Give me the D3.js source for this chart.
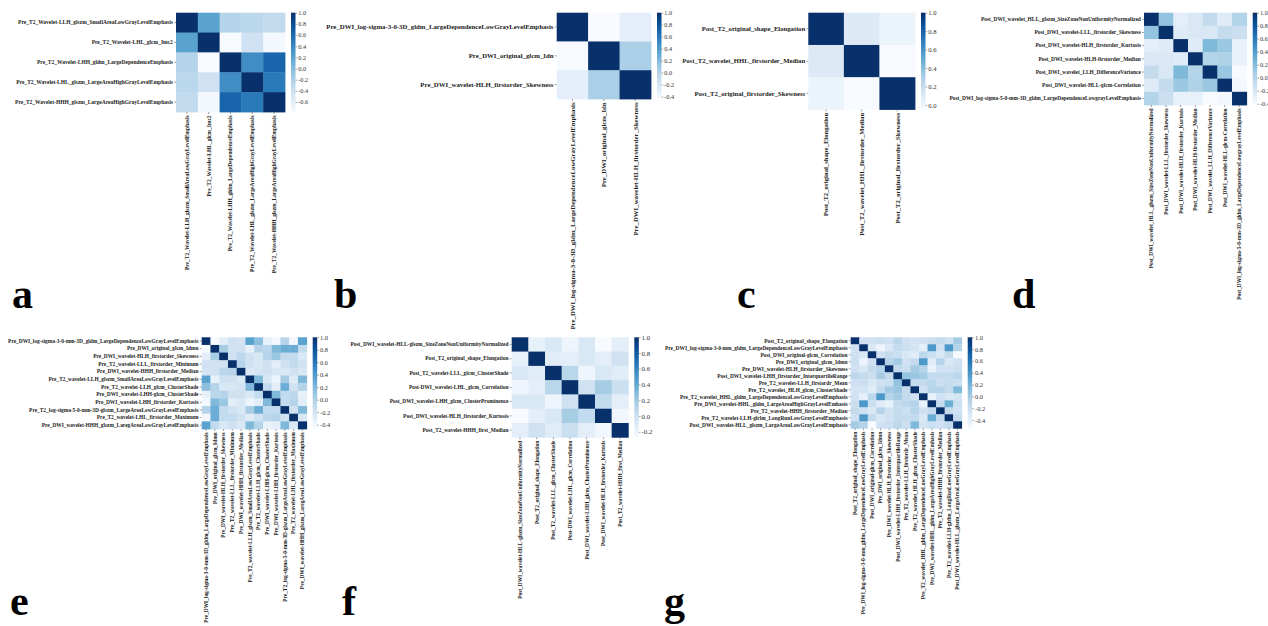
<!DOCTYPE html>
<html><head><meta charset="utf-8">
<script src="https://cdn.jsdelivr.net/npm/d3@7"></script>
<style>html,body{margin:0;padding:0;background:#fff;} svg{display:block;}</style>
</head><body><svg id="fig" width="1268" height="626"></svg>
<script>
// ---- feature names and correlation matrices for each panel ----
const labelsA = [
  "Pre_T2_Wavelet-LLH_glszm_SmallAreaLowGrayLevelEmphasis",
  "Pre_T2_Wavelet-LHL_glcm_Imc2",
  "Pre_T2_Wavelet-LHH_gldm_LargeDependenceEmphasis",
  "Pre_T2_Wavelet-LHL_glszm_LargeAreaHighGrayLevelEmphasis",
  "Pre_T2_Wavelet-HHH_glszm_LargeAreaHighGrayLevelEmphasis"
];
const valuesA = [
  [1.00, 0.20, -0.25, -0.28, -0.32],
  [0.20, 1.00, -0.78, -0.42, -0.74],
  [-0.25, -0.78, 1.00, 0.36, 0.64],
  [-0.28, -0.42, 0.36, 1.00, 0.50],
  [-0.32, -0.74, 0.64, 0.50, 1.00]
];
const ticksA = [1.0, 0.8, 0.6, 0.4, 0.2, 0.0, -0.2, -0.4, -0.6];

const labelsB = [
  "Pre_DWI_log-sigma-3-0-3D_gldm_LargeDependenceLowGrayLevelEmphasis",
  "Pre_DWI_original_glcm_Idn",
  "Pre_DWI_wavelet-HLH_firstorder_Skewness"
];
const valuesB = [
  [1.00, -0.44, -0.30],
  [-0.44, 1.00, 0.04],
  [-0.30, 0.04, 1.00]
];
const ticksB = [1.0, 0.8, 0.6, 0.4, 0.2, 0.0, -0.2, -0.4];

const labelsC = [
  "Post_T2_original_shape_Elongation",
  "Post_T2_wavelet_HHL_firstorder_Median",
  "Post_T2_original_firstorder_Skewness"
];
const valuesC = [
  [1.00, 0.09, 0.01],
  [0.09, 1.00, -0.05],
  [0.01, -0.05, 1.00]
];
const ticksC = [1.0, 0.8, 0.6, 0.4, 0.2, 0.0];

const labelsD = [
  "Post_DWI_wavelet_HLL_glszm_SizeZoneNonUniformityNormalized",
  "Post_DWI_wavelet-LLL_firstorder_Skewness",
  "Post_DWI_wavelet-HLH_firstorder_Kurtosis",
  "Post_DWI_wavelet-HLH-firstorder_Median",
  "Post_DWI_wavelet_LLH_DifferenceVariance",
  "Post_DWI_wavelet-HLL-glcm-Correlation",
  "Post_DWI_log-sigma-5-0-mm-3D_gldm_LargeDependenceLowgrayLevelEmphasis"
];
const valuesD = [
  [1.00, 0.15, -0.28, -0.21, -0.07, -0.25, 0.01],
  [0.15, 1.00, -0.25, -0.21, -0.21, -0.07, -0.11],
  [-0.28, -0.25, 1.00, -0.25, 0.22, 0.12, -0.31],
  [-0.21, -0.21, -0.25, 1.00, 0.01, 0.03, -0.31],
  [-0.07, -0.21, 0.22, 0.01, 1.00, 0.12, -0.42],
  [-0.25, -0.07, 0.12, 0.03, 0.12, 1.00, -0.39],
  [0.01, -0.11, -0.31, -0.31, -0.42, -0.39, 1.00]
];
const ticksD = [1.0, 0.8, 0.6, 0.4, 0.2, 0.0, -0.2, -0.4];

const labelsE = [
  "Pre_DWI_log-sigma-3-0-mm-3D_gldm_LargeDependenceLowGrayLevelEmphasis",
  "Pre_DWI_original_glcm_Idmn",
  "Pre_DWI_wavelet-HLH_firstorder_Skewness",
  "Pre_T2_wavelet-LLL_firstorder_Minimum",
  "Pre_DWI_wavelet-HHH_firstorder_Median",
  "Pre_T2_wavelet-LLH_glszm_SmallAreaLowGrayLevelEmphasis",
  "Pre_T2_wavelet-LLH_glcm_ClusterShade",
  "Pre_DWI_wavelet-LHH-glcm_ClusterShade",
  "Pre_DWI_wavelet-LHH_firstorder_Kurtosis",
  "Pre_T2_log-sigma-5-0-mm-3D-glszm_LargeAreaLowGrayLevelEmphasis",
  "Pre_T2_wavelet-LHL_firstorder_Maximum",
  "Pre_DWI_wavelet-HHH_glszm_LaregAreaLowGrayLevelEmphasis"
];
const valuesE = [
  [1.00, -0.47, -0.32, -0.18, -0.21, 0.34, 0.15, -0.35, -0.44, -0.03, -0.44, 0.34],
  [-0.47, 1.00, 0.04, -0.18, -0.18, -0.35, -0.03, -0.06, 0.19, 0.27, 0.27, -0.10],
  [-0.32, 0.04, 1.00, -0.18, -0.06, -0.18, -0.25, -0.03, 0.09, -0.10, -0.10, -0.25],
  [-0.18, -0.18, -0.18, 1.00, -0.03, -0.18, -0.25, -0.18, -0.32, -0.18, -0.10, -0.18],
  [-0.21, -0.18, -0.06, -0.03, 1.00, -0.25, -0.21, -0.18, -0.25, -0.25, -0.18, -0.25],
  [0.34, -0.35, -0.18, -0.18, -0.25, 1.00, 0.19, -0.25, -0.40, 0.04, -0.29, 0.19],
  [0.15, -0.03, -0.25, -0.25, -0.21, 0.19, 1.00, -0.10, -0.32, 0.27, -0.18, -0.03],
  [-0.35, -0.06, -0.03, -0.18, -0.18, -0.25, -0.10, 1.00, 0.19, -0.10, -0.06, -0.35],
  [-0.44, 0.19, 0.09, -0.32, -0.25, -0.40, -0.32, 0.19, 1.00, -0.10, -0.03, -0.32],
  [-0.03, 0.27, -0.10, -0.18, -0.25, 0.04, 0.27, -0.10, -0.10, 1.00, -0.18, 0.19],
  [-0.44, 0.27, -0.10, -0.10, -0.18, -0.29, -0.18, -0.06, -0.03, -0.18, 1.00, -0.25],
  [0.34, -0.10, -0.25, -0.18, -0.25, 0.19, -0.03, -0.35, -0.32, 0.19, -0.25, 1.00]
];
const ticksE = [1.0, 0.8, 0.6, 0.4, 0.2, 0.0, -0.2, -0.4];

const labelsF = [
  "Post_DWI_wavelet-HLL-glszm_SizeZoneNonUniformityNormalized",
  "Post_T2_original_shape_Elongation",
  "Post_T2_wavelet-LLL_glcm_ClusterShade",
  "Post-DWI_wavelet-LHL_glcm_Correlation",
  "Post_DWI_wavelet-LHH_glcm_ClusterProminence",
  "Post_DWI_wavelet-HLH_firstorder_Kurtosis",
  "Post_T2_wavelet-HHH_first_Median"
];
const valuesF = [
  [1.00, -0.17, -0.08, -0.21, -0.08, -0.27, -0.14],
  [-0.17, 1.00, -0.12, -0.14, -0.08, -0.14, -0.02],
  [-0.08, -0.12, 1.00, 0.09, -0.21, -0.08, -0.12],
  [-0.21, -0.14, 0.09, 1.00, -0.02, 0.17, 0.01],
  [-0.08, -0.08, -0.21, -0.02, 1.00, 0.05, -0.14],
  [-0.27, -0.14, -0.08, 0.17, 0.05, 1.00, -0.23],
  [-0.14, -0.02, -0.12, 0.01, -0.14, -0.23, 1.00]
];
const ticksF = [1.0, 0.8, 0.6, 0.4, 0.2, 0.0, -0.2];

const labelsG = [
  "Post_T2_original_shape_Elongation",
  "Pre_DWI_log-sigma-3-0-mm_gldm_LargeDependenceLowGrayLevelEmphasis",
  "Post_DWI_original-glcm_Correlation",
  "Pre_DWI_original_glcm_Idmn",
  "Pre_DWI_wavelet-HLH_firstorder_Skewness",
  "Post_DWI_wavelet-LHH_firstorder_InterquartileRange",
  "Pre_T2_wavelet-LLH_firstordr_Mean",
  "Pre_T2_wavelet_HLH_glcm_ClusterShade",
  "Pre_T2_wavelet_HHL_gldm_LargeDependenceLowGrayLevelEmphasis",
  "Pre_DWI_wavelet-HHL_gldm_LargeAreaHighGrayLevelEmhasis",
  "Pre_T2_wavelet-HHH_firstorder_Median",
  "Pre_T2_wavelet-LLH-glrlm_LongRunLowGrayLevelEmphasis",
  "Post_DWI_wavelet-HLL_glszm_LargeAreaLowGrayLevelEmphasis"
];
const valuesG = [
  [1.00, -0.23, -0.23, -0.20, -0.23, -0.11, -0.23, -0.26, -0.23, -0.20, -0.16, -0.23, 0.00],
  [-0.23, 1.00, -0.31, -0.46, -0.31, -0.16, -0.20, -0.26, -0.39, 0.38, -0.23, 0.38, -0.08],
  [-0.23, -0.31, 1.00, -0.23, -0.16, -0.20, -0.31, -0.36, -0.11, -0.20, -0.31, -0.16, -0.54],
  [-0.20, -0.46, -0.23, 1.00, -0.08, 0.00, -0.23, -0.16, 0.38, -0.36, -0.08, -0.31, -0.23],
  [-0.23, -0.31, -0.16, -0.08, 1.00, -0.16, -0.20, 0.00, -0.08, -0.42, -0.23, -0.23, -0.20],
  [-0.11, -0.16, -0.20, 0.00, -0.16, 1.00, 0.08, 0.05, 0.00, -0.16, -0.16, -0.16, -0.11],
  [-0.23, -0.20, -0.31, -0.23, -0.20, 0.08, 1.00, -0.16, -0.16, -0.11, -0.20, -0.16, -0.20],
  [-0.26, -0.26, -0.36, -0.16, 0.00, 0.05, -0.16, 1.00, -0.23, -0.08, -0.08, -0.16, 0.15],
  [-0.23, -0.39, -0.11, 0.38, -0.08, 0.00, -0.16, -0.23, 1.00, -0.42, -0.23, -0.31, -0.26],
  [-0.20, 0.38, -0.20, -0.36, -0.42, -0.16, -0.11, -0.08, -0.42, 1.00, -0.16, 0.23, -0.20],
  [-0.16, -0.23, -0.31, -0.08, -0.23, -0.16, -0.20, -0.08, -0.23, -0.16, 1.00, -0.16, -0.23],
  [-0.23, 0.38, -0.16, -0.31, -0.23, -0.16, -0.16, -0.16, -0.31, 0.23, -0.16, 1.00, -0.16],
  [0.00, -0.08, -0.54, -0.23, -0.20, -0.11, -0.20, 0.15, -0.26, -0.20, -0.23, -0.16, 1.00]
];
const ticksG = [1.0, 0.8, 0.6, 0.4, 0.2, 0.0, -0.2, -0.4];

// ---- panel placement ----
const panels = [
  {tag: "a", labels: labelsA, values: valuesA, ticks: ticksA, box: {x: 176, y: 12.7, w: 109, h: 99.3}, font: 5.5, cbFont: 6.2, tagPos: [12, 308]},
  {tag: "b", labels: labelsB, values: valuesB, ticks: ticksB, box: {x: 556.7, y: 12.7, w: 94.3, h: 86.3}, font: 6.8, cbFont: 6.2, tagPos: [334, 308]},
  {tag: "c", labels: labelsC, values: valuesC, ticks: ticksC, box: {x: 808.3, y: 12.7, w: 106.7, h: 96.8}, font: 6.7, cbFont: 6.6, tagPos: [737, 308]},
  {tag: "d", labels: labelsD, values: valuesD, ticks: ticksD, box: {x: 1144, y: 12.7, w: 102.7, h: 92.3}, font: 5.4, cbFont: 6.2, tagPos: [1012, 308]},
  {tag: "e", labels: labelsE, values: valuesE, ticks: ticksE, box: {x: 201.7, y: 337.3, w: 105, h: 91.7}, font: 5.38, cbFont: 6.4, tagPos: [10, 615]},
  {tag: "f", labels: labelsF, values: valuesF, ticks: ticksF, box: {x: 511.7, y: 337.3, w: 116.6, h: 100}, font: 5.4, cbFont: 6.8, tagPos: [342, 615]},
  {tag: "g", labels: labelsG, values: valuesG, ticks: ticksG, box: {x: 850.7, y: 337.3, w: 111, h: 91}, font: 5.4, cbFont: 6.4, tagPos: [664, 615]}
];

const svg = d3.select("#fig");
const defs = svg.append("defs");
const SERIF = "'Liberation Serif', 'Times New Roman', serif";
const fmt = v => (Math.abs(v) < 1e-9 ? 0 : v).toFixed(1);

panels.forEach((p, pi) => {
  const n = p.labels.length;
  const idx = d3.range(n);
  const {x: bx, y: by, w: bw, h: bh} = p.box;
  const xs = d3.scaleBand().domain(idx).range([bx, bx + bw]);
  const ys = d3.scaleBand().domain(idx).range([by, by + bh]);
  const [lo, hi] = d3.extent(p.values.flat());
  const color = d3.scaleSequential(d3.interpolateBlues).domain([lo, hi]);

  const g = svg.append("g");

  // heatmap cells
  const cells = [];
  p.values.forEach((row, i) => row.forEach((v, j) => cells.push({i, j, v})));
  g.append("g").selectAll("rect").data(cells).join("rect")
    .attr("x", d => xs(d.j))
    .attr("y", d => ys(d.i))
    .attr("width", xs.bandwidth() + 0.4)
    .attr("height", ys.bandwidth() + 0.4)
    .attr("fill", d => color(d.v));

  // row labels
  const yAxis = g.append("g")
    .attr("transform", `translate(${bx},0)`)
    .call(d3.axisLeft(ys).tickFormat(i => p.labels[i]).tickSize(2).tickPadding(1.2));
  yAxis.select(".domain").remove();

  // column labels, rotated
  const xAxis = g.append("g")
    .attr("transform", `translate(0,${by + bh})`)
    .call(d3.axisBottom(xs).tickFormat(i => p.labels[i]).tickSize(2).tickPadding(1.2));
  xAxis.select(".domain").remove();
  xAxis.selectAll("text")
    .attr("transform", "rotate(-90)")
    .attr("text-anchor", "end")
    .attr("x", -3.4)
    .attr("y", 0)
    .attr("dy", "0.35em");

  [yAxis, xAxis].forEach(ax => {
    ax.attr("font-family", null).attr("font-size", null);
    ax.selectAll("text")
      .style("font-family", SERIF)
      .style("font-weight", "bold")
      .style("font-size", p.font + "px")
      .attr("fill", "#222");
    ax.selectAll("line").attr("stroke", "#444").attr("stroke-width", 0.5);
  });

  // colour bar
  const cbX = bx + bw + 6;
  const cbW = 4.5;
  const gradId = "blues-" + pi;
  const grad = defs.append("linearGradient").attr("id", gradId)
    .attr("x1", 0).attr("y1", 1).attr("x2", 0).attr("y2", 0);
  d3.range(0, 1.0001, 0.05).forEach(t => {
    grad.append("stop").attr("offset", t).attr("stop-color", d3.interpolateBlues(t));
  });
  g.append("rect")
    .attr("x", cbX).attr("y", by).attr("width", cbW).attr("height", bh)
    .attr("fill", `url(#${gradId})`);

  const cbScale = d3.scaleLinear().domain([lo, hi]).range([by + bh, by]);
  const cbAxis = g.append("g")
    .attr("transform", `translate(${cbX + cbW},0)`)
    .call(d3.axisRight(cbScale).tickValues(p.ticks).tickFormat(fmt).tickSize(1.8).tickPadding(1));
  cbAxis.select(".domain").remove();
  cbAxis.attr("font-family", null).attr("font-size", null);
  cbAxis.selectAll("text")
    .style("font-family", SERIF)
    .style("font-size", p.cbFont + "px")
    .attr("fill", "#333");
  cbAxis.selectAll("line").attr("stroke", "#555").attr("stroke-width", 0.5);

  // panel letter
  svg.append("text")
    .attr("x", p.tagPos[0]).attr("y", p.tagPos[1])
    .style("font-family", SERIF)
    .style("font-weight", "bold")
    .style("font-size", "42px")
    .attr("fill", "#000")
    .text(p.tag);
});
</script>
</body></html>
